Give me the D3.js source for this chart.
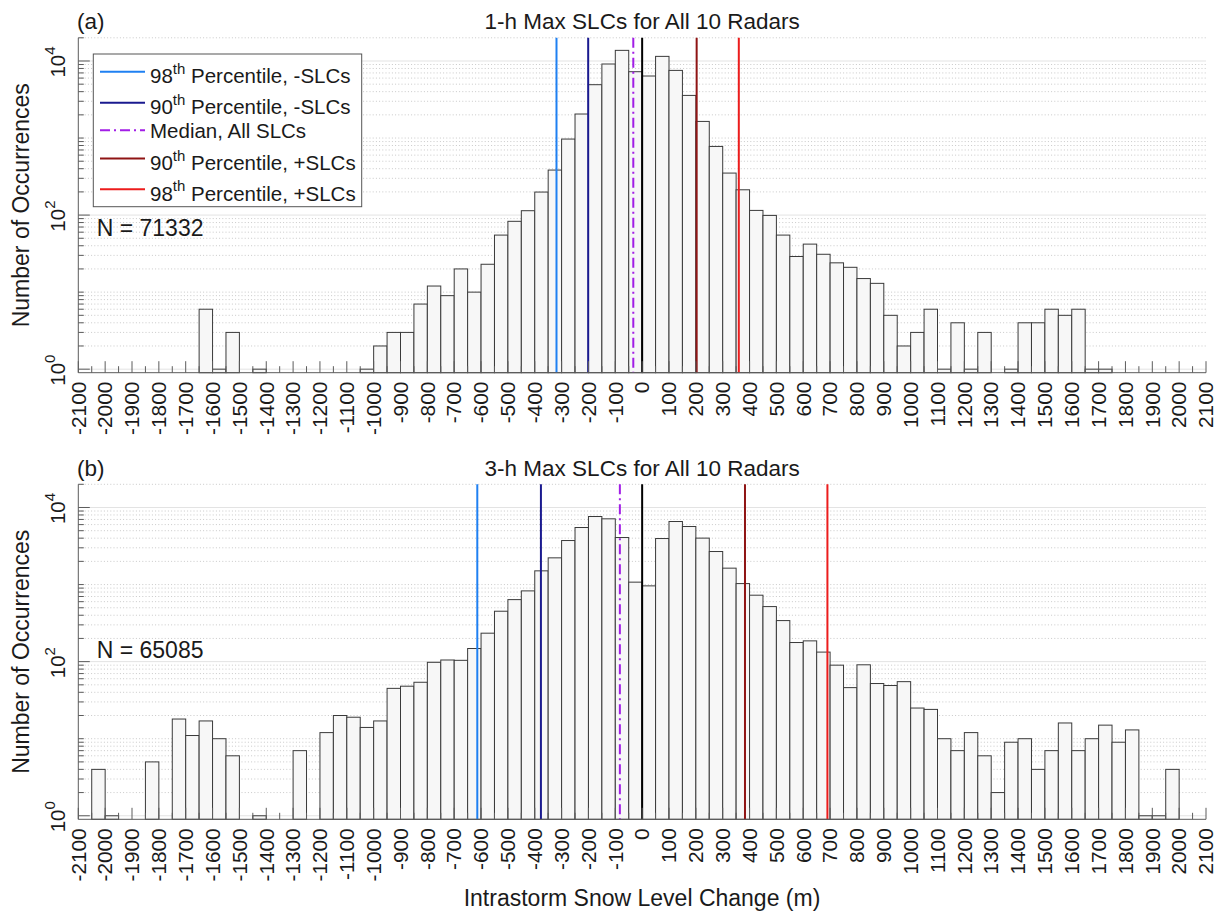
<!DOCTYPE html>
<html>
<head>
<meta charset="utf-8">
<script src="https://cdn.jsdelivr.net/npm/d3@7"></script>
<style>
  body { margin: 0; background: #fff; }
  text { font-family: "Liberation Sans", Arial, Helvetica, sans-serif; fill: #1a1a1a; }
</style>
</head>
<body>
<svg id="chart" width="1224" height="914"></svg>
<script>
// Histogram bins: 50 m wide, from -2100 m to 2100 m
const binLefts = d3.range(-2100, 2100, 50);
const binWidth = 50;

// Counts per bin, 1-h maximum snow level changes
const counts1h = [
  0, 0, 0, 0, 0, 0, 0, 0, 0, 6,
  1, 3, 0, 1, 0, 0, 0, 0, 0, 0,
  0, 1, 2, 3, 3, 7, 12, 9, 20, 10,
  23, 55, 83, 114, 199, 384, 970, 2050, 4925, 9140,
  13740, 7260, 6385, 11480, 7550, 3575, 1643, 778, 351, 213,
  115, 99, 55, 29, 42, 31, 24, 21, 15, 13,
  5, 2, 3, 6, 1, 4, 1, 3, 0, 1,
  4, 4, 6, 5, 6, 1, 1, 0, 0, 0,
  0, 0, 0, 0
];

// Counts per bin, 3-h maximum snow level changes
const counts3h = [
  0, 4, 1, 0, 0, 5, 0, 18, 11, 17,
  10, 6, 0, 1, 0, 0, 7, 0, 12, 20,
  19, 14, 17, 45, 48, 54, 98, 105, 104, 148,
  234, 451, 638, 828, 1507, 2222, 3727, 5500, 7640, 7130,
  4077, 1075, 962, 3957, 6580, 5666, 4006, 2684, 1633, 1030,
  728, 518, 341, 177, 186, 133, 90, 46, 91, 52,
  49, 55, 25, 24, 10, 7, 12, 6, 2, 9,
  10, 4, 7, 16, 7, 10, 15, 9, 13, 1,
  1, 4, 0, 0
];

// Reference lines (m): 98th -, 90th -, median, 90th +, 98th +
const refLabels = ["98|th| Percentile, -SLCs", "90|th| Percentile, -SLCs", "Median, All SLCs",
                   "90|th| Percentile, +SLCs", "98|th| Percentile, +SLCs"];
const refColors = ["#1f80f2", "#1a1a8f", "#a21ee6", "#8f1414", "#ec1c1c"];
const refDashed = [false, false, true, false, false];
const refValues1h = [-319, -201, -33, 203, 360];
const refValues3h = [-614, -377, -83, 383, 690];
const zeroValue = 0;

const xTickLabels = d3.range(-2100, 2101, 100);
const xMinorTicks = d3.range(-2100, 2101, 50);
const yLabelExponents = [0, 2, 4];

const panelTitles = ["1-h Max SLCs for All 10 Radars", "3-h Max SLCs for All 10 Radars"];
const panelTags = ["(a)", "(b)"];
const sampleSizes = [71332, 65085];

const svg = d3.select("#chart");
const left = 78.3, right = 1206;
const x = d3.scaleLinear().domain([-2100, 2100]).range([left, right]);
const axisColor = "#5c5c5c";

function drawPanel(cfg) {
  const { top, bottom, counts, refs, idx, nLabelValue, showLegend } = cfg;
  const y = d3.scaleLog().domain([0.9, 20000]).range([bottom, top]);
  const g = svg.append("g");

  // horizontal grid: solid at labelled decades, dotted elsewhere
  const gridVals = [];
  for (let k = 0; k <= 4; k++) for (let m = 1; m <= 9; m++) {
    const v = m * Math.pow(10, k);
    if (v <= 20000) gridVals.push(v);
  }
  g.selectAll("line.grid").data(gridVals).join("line")
    .attr("x1", left).attr("x2", right)
    .attr("y1", d => y(d)).attr("y2", d => y(d))
    .attr("stroke", d => (yLabelExponents.some(e => Math.pow(10, e) === d)) ? "#e3e3e3" : "#c9c9c9")
    .attr("stroke-width", 1)
    .attr("stroke-dasharray", d => (yLabelExponents.some(e => Math.pow(10, e) === d)) ? null : "1,2.2");

  // bars
  const bins = binLefts.map((b, i) => ({ x0: b, x1: b + binWidth, n: counts[i] })).filter(d => d.n > 0);
  g.selectAll("rect.bar").data(bins).join("rect")
    .attr("x", d => x(d.x0)).attr("width", d => x(d.x1) - x(d.x0))
    .attr("y", d => y(d.n)).attr("height", d => y(0.9) - y(d.n))
    .attr("fill", "#f7f7f7").attr("stroke", "#3a3a3a").attr("stroke-width", 1);

  // reference lines
  const lines = refs.map((v, i) => ({ v, color: refColors[i], dashed: refDashed[i] }));
  lines.push({ v: zeroValue, color: "#000", dashed: false });
  g.selectAll("line.ref").data(lines).join("line")
    .attr("x1", d => x(d.v)).attr("x2", d => x(d.v))
    .attr("y1", top).attr("y2", bottom)
    .attr("stroke", d => d.color).attr("stroke-width", 2)
    .attr("stroke-dasharray", d => d.dashed ? "10,4,2,4" : null);

  // axes lines
  g.append("line").attr("x1", left).attr("x2", left).attr("y1", top).attr("y2", bottom)
    .attr("stroke", axisColor).attr("stroke-width", 1);
  g.append("line").attr("x1", left).attr("x2", right).attr("y1", bottom).attr("y2", bottom)
    .attr("stroke", axisColor).attr("stroke-width", 1);

  // x ticks (inward)
  g.selectAll("line.xt").data(xMinorTicks).join("line")
    .attr("x1", d => x(d)).attr("x2", d => x(d))
    .attr("y1", bottom).attr("y2", d => bottom - (d % 100 === 0 ? 11.5 : 6.5))
    .attr("stroke", axisColor).attr("stroke-width", 1);

  // x tick labels, rotated
  g.selectAll("text.xl").data(xTickLabels).join("text")
    .attr("transform", d => `translate(${x(d)},${bottom + 9}) rotate(-90)`)
    .attr("text-anchor", "end").attr("dy", "0.35em")
    .style("font-size", "20.8px")
    .text(d => d);

  // y ticks (inward)
  g.selectAll("line.yt").data(gridVals).join("line")
    .attr("x1", left).attr("x2", d => left + (yLabelExponents.some(e => Math.pow(10, e) === d) ? 11.5 : 5.5))
    .attr("y1", d => y(d)).attr("y2", d => y(d))
    .attr("stroke", axisColor).attr("stroke-width", 1);

  // y tick labels 10^k, rotated
  const yl = g.selectAll("text.yl").data(yLabelExponents).join("text")
    .attr("transform", d => `translate(65,${y(Math.pow(10, d)) + 1}) rotate(-90)`)
    .attr("text-anchor", "middle")
    .style("font-size", "20.5px");
  yl.append("tspan").text("10");
  yl.append("tspan").attr("dy", -10).style("font-size", "15px").text(d => d);

  // y axis title
  svg.append("text")
    .attr("transform", `translate(29,${(top + bottom) / 2}) rotate(-90)`)
    .attr("text-anchor", "middle").style("font-size", "23px")
    .text("Number of Occurrences");

  // panel title and tag
  svg.append("text").attr("x", (left + right) / 2).attr("y", top - 8.5)
    .attr("text-anchor", "middle").style("font-size", "22.5px").text(panelTitles[idx]);
  svg.append("text").attr("x", 77).attr("y", top - 8.5)
    .style("font-size", "22.5px").text(panelTags[idx]);

  // sample size
  svg.append("text").attr("x", 96.7).attr("y", y(nLabelValue))
    .style("font-size", "23px").text(`N = ${sampleSizes[idx]}`);

  if (showLegend) {
    const lg = svg.append("g");
    lg.append("rect").attr("x", 93.3).attr("y", 54).attr("width", 268.4).attr("height", 152.7)
      .attr("fill", "#fff").attr("stroke", "#555").attr("stroke-width", 1);
    const rowY = [71.7, 102.7, 130.2, 158.5, 189.3];
    refLabels.forEach((lab, i) => {
      lg.append("line").attr("x1", 100).attr("x2", 145).attr("y1", rowY[i]).attr("y2", rowY[i])
        .attr("stroke", refColors[i]).attr("stroke-width", 2)
        .attr("stroke-dasharray", refDashed[i] ? "10,4,2,4" : null);
      const parts = lab.split("|");
      const t = lg.append("text").attr("x", 150).style("font-size", "20.5px");
      if (parts.length === 3) {
        t.attr("y", rowY[i] + 11.5);
        t.append("tspan").text(parts[0]);
        t.append("tspan").attr("dy", -9.5).style("font-size", "15px").text(parts[1]);
        t.append("tspan").attr("dy", 9.5).text(parts[2]);
      } else {
        t.attr("y", rowY[i] + 8.2).text(lab);
      }
    });
  }
}

drawPanel({ top: 37.8, bottom: 372.7, counts: counts1h, refs: refValues1h, idx: 0, nLabelValue: 54, showLegend: true });
drawPanel({ top: 484.3, bottom: 819.3, counts: counts3h, refs: refValues3h, idx: 1, nLabelValue: 111, showLegend: false });

// shared x axis title
svg.append("text").attr("x", 642).attr("y", 906)
  .attr("text-anchor", "middle").style("font-size", "23px")
  .text("Intrastorm Snow Level Change (m)");
</script>
</body>
</html>
